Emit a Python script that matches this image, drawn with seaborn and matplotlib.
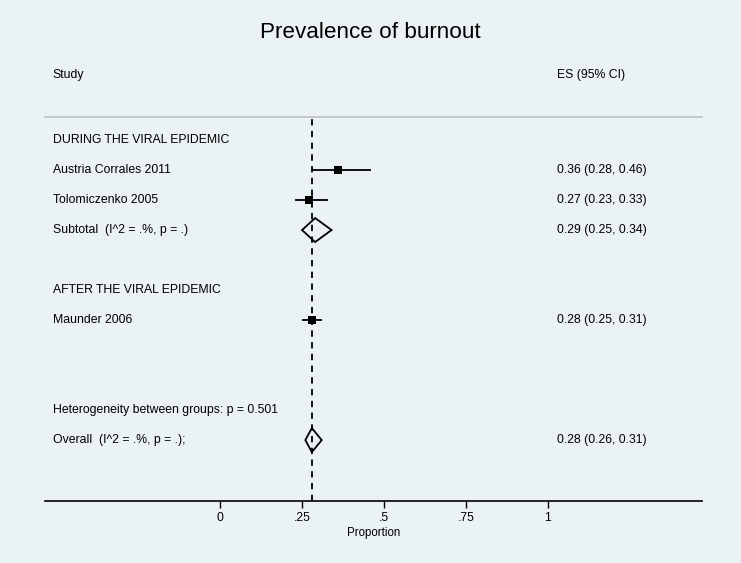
import numpy as np
import pandas as pd
import seaborn as sns
from matplotlib import pyplot as plt

# study rows
studies = ["Austria Corrales 2011", "Tolomiczenko 2005", "Maunder 2006"]
study_rows = [1, 2, 6]
es = [0.36, 0.27, 0.28]
lo = [0.28, 0.23, 0.25]
hi = [0.46, 0.33, 0.31]
es_text = ["0.36 (0.28, 0.46)", "0.27 (0.23, 0.33)", "0.28 (0.25, 0.31)"]

# pooled estimates (diamonds)
pooled_labels = ["Subtotal  (I^2 = .%, p = .)", "Overall  (I^2 = .%, p = .);"]
pooled_rows = [3, 10]
pooled_es = [0.29, 0.28]
pooled_lo = [0.25, 0.26]
pooled_hi = [0.34, 0.31]
pooled_text = ["0.29 (0.25, 0.34)", "0.28 (0.26, 0.31)"]

# other label rows
group_labels = ["DURING THE VIRAL EPIDEMIC", "AFTER THE VIRAL EPIDEMIC",
                "Heterogeneity between groups: p = 0.501"]
group_rows = [0, 5, 9]

xticks = [0, 0.25, 0.5, 0.75, 1]
xticklabels = ["0", ".25", ".5", ".75", "1"]
overall_line = 0.28

bg = "#eaf2f3"
sns.set_theme(style="white")
plt.rcParams["font.family"] = ["Liberation Sans", "DejaVu Sans"]
plt.rcParams["text.color"] = "black"
plt.rcParams["axes.labelcolor"] = "black"
plt.rcParams["xtick.color"] = "black"

fig = plt.figure(figsize=(7.41, 5.63), dpi=100, facecolor=bg)
W, H = 741, 563
ax = fig.add_axes([45 / W, (H - 501) / H, (702 - 45) / W, (501 - 117) / H])
ax.set_facecolor(bg)

df = pd.DataFrame({"study": studies, "row": study_rows, "es": es, "lo": lo, "hi": hi})

ax.hlines(df["row"], df["lo"], df["hi"], color="black", lw=1.3, zorder=3)
sns.scatterplot(data=df, x="es", y="row", marker="s", s=28, color="black",
                edgecolor="black", linewidth=0, ax=ax, zorder=4, legend=False)

for r, c, l, h in zip(pooled_rows, pooled_es, pooled_lo, pooled_hi):
    ax.fill([l, c, h, c, l], [r, r - 0.4, r, r + 0.4, r], facecolor="none",
            edgecolor="black", lw=1.3, zorder=4)

ax.axvline(overall_line, color="black", lw=1.3, ls=(0, (3.5, 3)), zorder=2)

# text columns
tx_left = -0.51
tx_right = 1.029
fs = 8.8
for r, t in zip(study_rows, studies):
    ax.text(tx_left, r, t, ha="left", va="center", fontsize=fs)
for r, t in zip(study_rows, es_text):
    ax.text(tx_right, r, t, ha="left", va="center", fontsize=fs)
for r, t in zip(pooled_rows, pooled_labels):
    ax.text(tx_left, r, t, ha="left", va="center", fontsize=fs)
for r, t in zip(pooled_rows, pooled_text):
    ax.text(tx_right, r, t, ha="left", va="center", fontsize=fs)
for r, t in zip(group_rows, group_labels):
    ax.text(tx_left, r, t, ha="left", va="center", fontsize=fs)
ax.text(tx_left, -2.17, "Study", ha="left", va="center", fontsize=fs, clip_on=False)
ax.text(tx_right, -2.17, "ES (95% CI)", ha="left", va="center", fontsize=fs, clip_on=False)

ax.set_xlim(-0.534, 1.47)
ax.set_ylim(12.03, -0.767)
ax.set_yticks([])
ax.set_ylabel("")
ax.set_xticks(xticks)
ax.set_xticklabels(xticklabels, fontsize=fs)
ax.tick_params(axis="x", bottom=True, direction="out", length=5, width=1,
               color="black", pad=3)
ax.set_xlabel("Proportion", fontsize=fs - 0.5, labelpad=2)

for s in ["left", "right"]:
    ax.spines[s].set_visible(False)
ax.spines["top"].set_color("#c2c6c7")
ax.spines["top"].set_linewidth(1.3)
ax.spines["bottom"].set_color("black")
ax.spines["bottom"].set_linewidth(1.2)

fig.text(0.5, 1 - 33 / H, "Prevalence of burnout", ha="center", va="center", fontsize=16.2)

plt.savefig("out.png", dpi=100, facecolor=bg)
